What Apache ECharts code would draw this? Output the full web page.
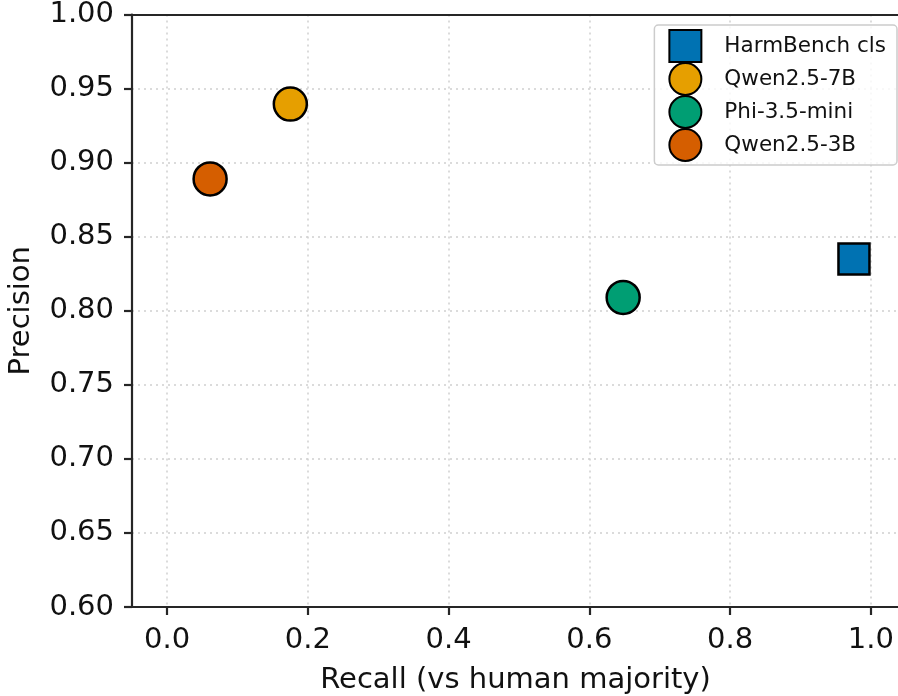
<!DOCTYPE html>
<html>
<head>
<meta charset="utf-8">
<script src="https://cdn.jsdelivr.net/npm/echarts@6/dist/echarts.min.js"></script>
<style>
html,body{margin:0;padding:0;background:#fff;}
#c{width:898px;height:696px;}
</style>
</head>
<body>
<div id="c"></div>
<script>
const names = ['HarmBench cls', 'Qwen2.5-7B', 'Phi-3.5-mini', 'Qwen2.5-3B'];
const recall = [0.976, 0.175, 0.648, 0.061];
const precision = [0.835, 0.9395, 0.809, 0.889];
const symbols = ['rect', 'circle', 'circle', 'circle'];
const colors = ['#0072B2', '#E69F00', '#009E73', '#D55E00'];
const xTicks = [0, 0.2, 0.4, 0.6, 0.8, 1.0];

const FONT = 'DejaVu Sans';
const TXT = '#111111';
const chart = echarts.init(document.getElementById('c'), null, {renderer: 'canvas'});

const series = names.map((n, i) => ({
  name: n,
  type: 'scatter',
  symbol: symbols[i],
  symbolSize: symbols[i] === 'rect' ? 31 : 33,
  data: [[recall[i], precision[i]]],
  itemStyle: {color: colors[i], borderColor: '#000', borderWidth: 2.5, opacity: 1},
  emphasis: {disabled: true},
  z: 3
}));

chart.setOption({
  animation: false,
  backgroundColor: '#fff',
  grid: {left: 132, top: 14.5, width: 767, height: 592.5, containLabel: false, outerBoundsMode: 'none'},
  legend: {
    right: 1, top: 25,
    orient: 'vertical',
    data: names,
    itemWidth: 32, itemHeight: 32, itemGap: -1,
    padding: [4, 11, 3, 14],
    backgroundColor: 'rgba(255,255,255,0.8)',
    borderColor: '#cccccc', borderWidth: 1.5, borderRadius: 4,
    textStyle: {fontFamily: FONT, fontSize: 21.5, color: TXT, padding: [0, 0, 0, 18]},
    selectedMode: false
  },
  xAxis: {
    type: 'value', min: -0.05, max: 1.04,
    name: 'Recall (vs human majority)', nameLocation: 'middle', nameGap: 59,
    nameTextStyle: {fontFamily: FONT, fontSize: 29, color: TXT},
    axisLine: {show: true, onZero: false, lineStyle: {color: '#262626', width: 2.2}},
    axisTick: {show: true, inside: false, length: 8, customValues: xTicks, lineStyle: {color: '#262626', width: 2.2}},
    axisLabel: {customValues: xTicks, fontFamily: FONT, fontSize: 29, color: TXT, margin: 19,
      formatter: v => v.toFixed(1)},
    splitLine: {show: true, lineStyle: {color: '#d0d0d0', width: 1.5, type: [2, 4]}}
  },
  yAxis: {
    type: 'value', min: 0.6, max: 1.0, interval: 0.05,
    name: 'Precision', nameLocation: 'middle', nameGap: 96,
    nameTextStyle: {fontFamily: FONT, fontSize: 29, color: TXT},
    axisLine: {show: true, onZero: false, lineStyle: {color: '#262626', width: 2.2}},
    axisTick: {show: true, inside: false, length: 8, lineStyle: {color: '#262626', width: 2.2}},
    axisLabel: {fontFamily: FONT, fontSize: 29, color: TXT, margin: 18,
      formatter: v => v.toFixed(2)},
    splitLine: {show: true, lineStyle: {color: '#d0d0d0', width: 1.5, type: [2, 4]}}
  },
  series: series.concat([{
    type: 'line', data: [], silent: true,
    markLine: {
      silent: true, symbol: 'none', label: {show: false},
      lineStyle: {color: '#262626', width: 2.2, type: 'solid'},
      data: [[{coord: [-0.05, 1.0]}, {coord: [1.04, 1.0]}]]
    }
  }])
});
</script>
</body>
</html>
